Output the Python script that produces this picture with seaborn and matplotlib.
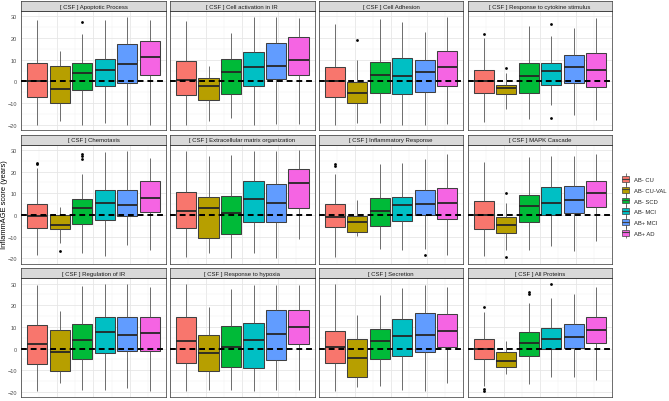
import numpy as np
import pandas as pd
import seaborn as sns
import matplotlib
matplotlib.use("Agg")
import matplotlib.pyplot as plt
from matplotlib.patches import Patch
from matplotlib.lines import Line2D

# ---------------- data ----------------
groups = ["AB- CU", "AB- CU-VAL", "AB- SCD", "AB- MCI", "AB+ MCI", "AB+ AD"]
colors = ["#F8766D", "#B79F00", "#00BA38", "#00BFC4", "#619CFF", "#F564E3"]

panel_titles = [
    "[ CSF ] Apoptotic Process", "[ CSF ] Cell activation in IR",
    "[ CSF ] Cell Adhesion", "[ CSF ] Response to cytokine stimulus",
    "[ CSF ] Chemotaxis", "[ CSF ] Extracellular matrix organization",
    "[ CSF ] Inflammatory Response", "[ CSF ] MAPK Cascade",
    "[ CSF ] Regulation of IR", "[ CSF ] Response to hypoxia",
    "[ CSF ] Secretion", "[ CSF ] All Proteins",
]

# one row per group: (lower whisker, Q1, median, Q3, upper whisker)
apoptotic = [(-20, -7.1, 0.1, 8.6, 28.2), (-18.5, -9.8, -3.5, 6.9, 14.2),
             (-20, -4.0, 3.8, 8.4, 22.0), (-19.1, -2.3, 5.1, 10.5, 28.2),
             (-20, -0.8, 7.8, 17.2, 29.7), (-20, 3.1, 11.1, 18.8, 28.5)]
cell_activation = [(-20, -6.3, 0.5, 9.4, 27.8), (-18.5, -8.5, -2.2, 1.4, 6.9),
                   (-16.9, -6.0, 4.2, 10.2, 22.5), (-20, -2.2, 6.6, 13.7, 29.7),
                   (-19.5, 1.2, 7.2, 17.7, 29.7), (-19.5, 2.9, 9.8, 20.5, 29.1)]
cell_adhesion = [(-20, -7.2, 0.3, 6.6, 26.6), (-19.4, -10.0, -5.2, -0.15, 9.8),
                 (-19.1, -5.4, 3.1, 8.9, 28.6), (-20, -5.7, 2.6, 10.8, 27.4),
                 (-20, -4.9, 4.2, 9.8, 22.8), (-19.5, -2.2, 6.8, 14.0, 29.7)]
cytokine = [(-18.8, -5.2, 0.0, 5.4, 20.0), (-12.6, -6.0, -3.1, -1.5, 4.0),
            (-17.2, -5.4, 2.5, 8.5, 25.5), (-11.1, -1.5, 4.8, 8.5, 21.1),
            (-15.7, -0.8, 6.6, 12.0, 24.8), (-18.0, -2.6, 5.2, 13.1, 29.4)]
chemotaxis = [(-18.5, -6.2, -0.5, 4.9, 21.5), (-13.0, -6.6, -4.8, 0.0, 3.5),
              (-17.7, -4.3, 3.1, 7.5, 18.9), (-18.9, -2.2, 5.4, 11.4, 28.9),
              (-13.8, -0.6, 4.8, 11.5, 29.4), (-16.0, 1.4, 7.7, 15.5, 26.3)]
ecm = [(-19.5, -6.2, 2.0, 10.6, 29.5), (-17.8, -10.6, 3.2, 8.5, 27.4),
       (-19.7, -8.9, 0.8, 8.9, 27.5), (-17.8, -3.1, 7.4, 15.5, 29.5),
       (-20, -3.1, 5.5, 14.5, 29.5), (-10.9, 3.4, 14.6, 21.1, 29.8)]
inflammatory = [(-19.5, -5.8, -0.8, 4.9, 19.0), (-9.8, -7.8, -3.4, -0.6, 6.9),
                (-15.8, -5.1, 1.7, 7.8, 23.4), (-16.3, -2.9, 4.5, 8.3, 24.2),
                (-15.8, -0.15, 5.2, 11.4, 25.8), (-18.3, -1.8, 5.5, 12.6, 28.3)]
mapk = [(-18.8, -6.5, 0.0, 6.6, 24.5), (-16.0, -8.2, -4.8, -0.9, 5.5),
        (-16.0, -3.1, 4.0, 9.4, 26.6), (-14.2, 0.0, 5.7, 12.8, 27.1),
        (-16.9, 0.8, 6.9, 13.4, 27.4), (-12.0, 3.5, 10.2, 15.8, 28.2)]
regulation = [(-19.8, -7.2, 2.1, 10.9, 29.2), (-15.8, -10.4, -1.8, 8.4, 17.3),
              (-19.4, -4.7, 3.8, 11.2, 28.8), (-19.0, -2.0, 7.7, 14.7, 29.7),
              (-18.1, -1.1, 6.1, 14.7, 29.7), (-19.8, -1.1, 7.2, 14.4, 28.5)]
hypoxia = [(-19.8, -6.6, 3.4, 14.4, 29.6), (-19.0, -10.4, -2.1, 6.4, 19.0),
           (-19.0, -8.4, 0.6, 10.6, 27.7), (-19.8, -9.0, 4.1, 11.8, 29.2),
           (-19.0, -5.2, 6.7, 17.9, 29.2), (-19.0, 2.1, 9.8, 17.9, 29.2)]
secretion = [(-19.8, -6.6, 0.5, 8.3, 29.7), (-17.8, -13.2, -4.4, 4.4, 15.5),
             (-17.5, -4.7, 3.4, 9.2, 24.7), (-19.3, -3.5, 5.7, 13.5, 28.2),
             (-19.8, -1.8, 6.1, 16.2, 29.2), (-15.8, 0.9, 8.1, 15.8, 28.6)]
all_proteins = [(-17.5, -4.7, 0.0, 4.4, 17.0), (-11.6, -8.7, -5.7, -1.7, 3.7),
                (-16.4, -3.5, 2.5, 7.8, 21.0), (-13.3, -0.15, 4.3, 9.3, 23.3),
                (-13.2, 0.15, 5.5, 11.5, 25.1), (-14.5, 2.5, 8.6, 14.5, 28.6)]

# outliers: (group index, value)
apoptotic_out = [(2, 27.4)]
cell_activation_out = []
cell_adhesion_out = [(1, 19.1)]
cytokine_out = [(0, 21.8), (1, 6.0), (3, 26.3), (3, -17.0)]
chemotaxis_out = [(0, 23.4), (0, 23.9), (1, -16.8), (2, 25.8), (2, 27.1), (2, 28.2)]
ecm_out = []
inflammatory_out = [(0, 22.5), (0, 23.5), (4, -18.5)]
mapk_out = [(1, 10.2), (1, -19.5)]
regulation_out = []
hypoxia_out = []
secretion_out = []
all_proteins_out = [(0, 19.0), (0, -18.8), (0, -19.8), (2, 25.0), (2, 25.9), (3, 29.9)]

panel_stats = [apoptotic, cell_activation, cell_adhesion, cytokine,
               chemotaxis, ecm, inflammatory, mapk,
               regulation, hypoxia, secretion, all_proteins]
panel_outliers = [apoptotic_out, cell_activation_out, cell_adhesion_out, cytokine_out,
                  chemotaxis_out, ecm_out, inflammatory_out, mapk_out,
                  regulation_out, hypoxia_out, secretion_out, all_proteins_out]

# build a long table whose quartiles / whiskers / outliers reproduce the stats above
records = []
for title, stats, outs in zip(panel_titles, panel_stats, panel_outliers):
    for gi, (lo, q1, med, q3, hi) in enumerate(stats):
        iqr = q3 - q1
        assert lo >= q1 - 1.5 * iqr and hi <= q3 + 1.5 * iqr, (title, gi)
        vals = [lo, hi] + [q1] * 40 + [med] * 40 + [q3] * 40
        for og, v in outs:
            if og == gi:
                assert v < q1 - 1.5 * iqr or v > q3 + 1.5 * iqr, (title, gi, v)
                vals.append(v)
        for v in vals:
            records.append((title, groups[gi], v))
df = pd.DataFrame(records, columns=["panel", "group", "value"])

# ---------------- figure ----------------
sns.set_theme(style="white")
plt.rcParams["font.family"] = ["Liberation Sans", "DejaVu Sans"]

W, H = 669, 402
fig = plt.figure(figsize=(W / 100, H / 100), dpi=100)

col_x = [21.3 + c * 148.8 for c in range(4)]
pw = 144.4
row_top = [12.0 + r * 133.6 for r in range(3)]
ph = 119.0
sh = 10.0

ylim = (-22.5, 32.5)
xlim = (2.5 - 3.21, 2.5 + 3.21)
span = xlim[1] - xlim[0]
x_major = [xlim[0] + k * span / 4 for k in range(5)]
x_minor = [xlim[0] + (k + 0.5) * span / 4 for k in range(4)]
edge = "#404040"

for i, title in enumerate(panel_titles):
    r, c = divmod(i, 4)
    x0, y0 = col_x[c], row_top[r]
    ax = fig.add_axes([x0 / W, 1 - (y0 + ph) / H, pw / W, ph / H])
    sub = df[df["panel"] == title]
    sns.boxplot(data=sub, x="group", y="value", hue="group", order=groups,
                hue_order=groups, palette=colors, saturation=1, width=0.9,
                whis=1.5, linewidth=0.75, linecolor=edge, legend=False, ax=ax,
                showcaps=False,
                medianprops=dict(color="#262626", linewidth=1.3),
                whiskerprops=dict(color="#555555", linewidth=0.6),
                flierprops=dict(marker="o", markerfacecolor="black",
                                markeredgecolor="black", markersize=2.0,
                                markeredgewidth=0))
    ax.axhline(0, color="black", linestyle=(0, (3, 2)), linewidth=1.4, zorder=6)
    ax.set_xlim(*xlim)
    ax.set_ylim(*ylim)
    ax.set_xlabel("")
    ax.set_ylabel("")
    ax.set_xticks(x_major)
    ax.set_xticks(x_minor, minor=True)
    ax.set_xticklabels([""] * len(x_major))
    ax.set_yticks([-20, -10, 0, 10, 20, 30])
    ax.set_yticks([-15, -5, 5, 15, 25], minor=True)
    ax.set_facecolor("white")
    ax.set_axisbelow(True)
    ax.grid(True, which="major", color="#E6E6E6", linewidth=0.6)
    ax.grid(True, which="minor", color="#F0F0F0", linewidth=0.35)
    for s in ax.spines.values():
        s.set_color("#333333")
        s.set_linewidth(0.5)
        s.set_visible(True)
    ax.tick_params(axis="x", which="both", length=0, labelbottom=False)
    ax.tick_params(axis="y", which="both", length=0, labelleft=False)
    if r == 2:
        ax.tick_params(axis="x", which="major", length=2.0, width=0.5,
                       color="#333333", direction="out")
    if c == 0:
        ax.tick_params(axis="y", which="major", length=2.0, width=0.5,
                       color="#333333", direction="out", labelleft=True,
                       labelsize=4.1, labelcolor="#4D4D4D", pad=1.2)

    sax = fig.add_axes([x0 / W, 1 - y0 / H, pw / W, sh / H])
    sax.set_facecolor("#D9D9D9")
    sax.set_xticks([])
    sax.set_yticks([])
    for s in sax.spines.values():
        s.set_color("#333333")
        s.set_linewidth(0.5)
    sax.text(0.5, 0.5, title, ha="center", va="center", fontsize=4.3,
             color="#1A1A1A", transform=sax.transAxes)

fig.text(4.5 / W, 1 - 205 / H, "InflammAGE score (years)", rotation=90,
         ha="center", va="center", fontsize=5.4, color="black")

handles = []
for col in colors:
    handles.append((Line2D([], [], color=edge, marker="|", markersize=8,
                           linestyle="None", markeredgewidth=0.5),
                    Patch(facecolor=col, edgecolor=edge, linewidth=0.5),
                    Line2D([], [], color=edge, linewidth=0.8)))
fig.legend(handles, groups, loc="center left",
           bbox_to_anchor=(622 / W, 1 - 207 / H), frameon=False,
           fontsize=4.2, handlelength=1.2, handleheight=1.1,
           handletextpad=0.9, labelspacing=0.85, borderaxespad=0, borderpad=0)

fig.savefig("out.png", dpi=100)
